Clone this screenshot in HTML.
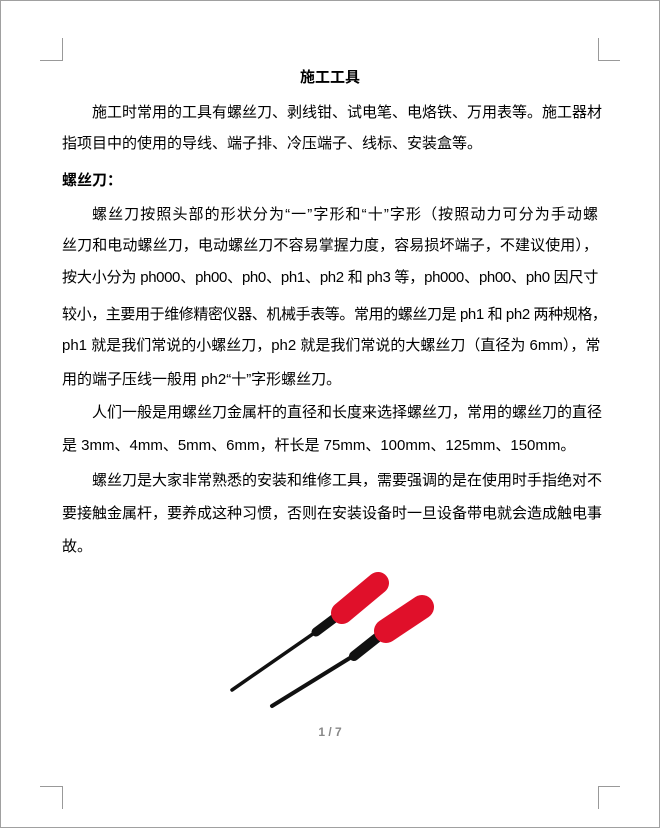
<!DOCTYPE html>
<html><head><meta charset="utf-8"><style>
body{margin:0;width:660px;height:828px;background:#fff;position:relative;overflow:hidden;font-family:"Liberation Sans","Noto Sans CJK SC",sans-serif;color:#000}
.pg{position:absolute;left:0;top:0;width:658px;height:826px;border:1px solid #a0a0a0}
.l{position:absolute;left:62px;width:536px;font-size:15px;line-height:20px;white-space:nowrap;text-align:justify;text-align-last:justify}
.m{position:absolute;background:#999}
</style></head><body>
<div class="pg"></div>
<div class="m" style="left:62px;top:38px;width:1px;height:23px"></div>
<div class="m" style="left:40px;top:60px;width:22px;height:1px"></div>
<div class="m" style="left:598px;top:38px;width:1px;height:23px"></div>
<div class="m" style="left:598px;top:60px;width:22px;height:1px"></div>
<div class="m" style="left:62px;top:786px;width:1px;height:23px"></div>
<div class="m" style="left:40px;top:786px;width:22px;height:1px"></div>
<div class="m" style="left:598px;top:786px;width:1px;height:23px"></div>
<div class="m" style="left:598px;top:786px;width:22px;height:1px"></div>

<div class="l" style="top:68px;text-align:center;text-align-last:center;font-weight:bold">施工工具</div>
<div class="l" style="top:103px;left:92px;width:506px">施工时常用的工具有螺丝刀、剥线钳、试电笔、电烙铁、万用表等。施工器材</div>
<div class="l" style="top:134px;text-align-last:left">指项目中的使用的导线、端子排、冷压端子、线标、安装盒等。</div>
<div class="l" style="top:171px;font-weight:bold;text-align-last:left">螺丝刀：</div>
<div class="l" style="top:205px;left:92px;width:506px">螺丝刀按照头部的形状分为“一”字形和“十”字形（按照动力可分为手动螺</div>
<div class="l" style="top:236px">丝刀和电动螺丝刀，电动螺丝刀不容易掌握力度，容易损坏端子，不建议使用），</div>
<div class="l" style="top:268px;letter-spacing:-0.4px">按大小分为 ph000、ph00、ph0、ph1、ph2 和 ph3 等，ph000、ph00、ph0 因尺寸</div>
<div class="l" style="top:305px;letter-spacing:-0.4px">较小，主要用于维修精密仪器、机械手表等。常用的螺丝刀是 ph1 和 ph2 两种规格，</div>
<div class="l" style="top:336px">ph1 就是我们常说的小螺丝刀，ph2 就是我们常说的大螺丝刀（直径为 6mm），常</div>
<div class="l" style="top:370px;text-align-last:left">用的端子压线一般用 ph2“十”字形螺丝刀。</div>
<div class="l" style="top:403px;left:92px;width:506px">人们一般是用螺丝刀金属杆的直径和长度来选择螺丝刀，常用的螺丝刀的直径</div>
<div class="l" style="top:436px;text-align-last:left">是 3mm、4mm、5mm、6mm，杆长是 75mm、100mm、125mm、150mm。</div>
<div class="l" style="top:471px;left:92px;width:506px">螺丝刀是大家非常熟悉的安装和维修工具，需要强调的是在使用时手指绝对不</div>
<div class="l" style="top:504px">要接触金属杆，要养成这种习惯，否则在安装设备时一旦设备带电就会造成触电事</div>
<div class="l" style="top:537px;text-align-last:left">故。</div>

<svg style="position:absolute;left:220px;top:565px" width="220" height="150">
<g>
<line x1="12" y1="125" x2="100" y2="64" stroke="#111" stroke-width="3.5" stroke-linecap="round"/>
<line x1="96" y1="67" x2="116" y2="52" stroke="#111" stroke-width="9" stroke-linecap="round"/>
<line x1="122" y1="48" x2="158" y2="18" stroke="#e0102a" stroke-width="22" stroke-linecap="round"/>
</g>
<g>
<line x1="52" y1="141" x2="138" y2="88" stroke="#111" stroke-width="4" stroke-linecap="round"/>
<line x1="134" y1="91" x2="158" y2="72" stroke="#111" stroke-width="10" stroke-linecap="round"/>
<line x1="166" y1="66" x2="202" y2="42" stroke="#e0102a" stroke-width="24" stroke-linecap="round"/>
</g>
</svg>

<div style="position:absolute;left:0;width:660px;top:725px;text-align:center;font-size:12px;font-weight:bold;color:#888">1 / 7</div>
</body></html>
